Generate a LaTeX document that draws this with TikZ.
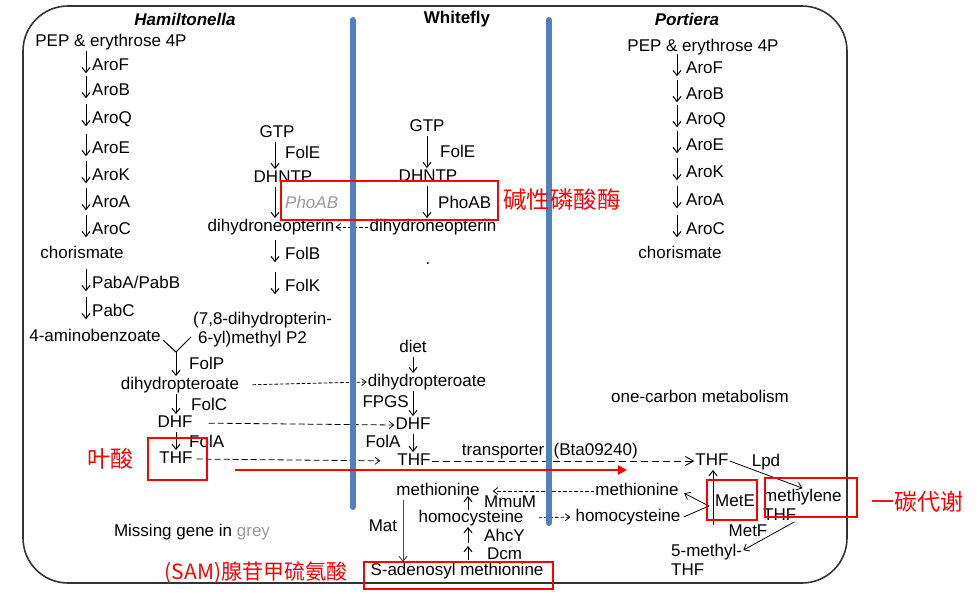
\documentclass[tikz,border=0pt]{standalone}
\usepackage{fontspec}
\setmainfont{Liberation Sans}
\newfontfamily\cjkfont{Noto Sans CJK SC}
\usetikzlibrary{arrows.meta}
\definecolor{barblue}{HTML}{4F81BD}
\definecolor{missgray}{HTML}{999999}

\tikzset{
  txt/.style={font=\fontsize{17}{19}\selectfont, inner sep=1pt},
  met/.style={txt, text height=12pt, text depth=3.5pt},
  enz/.style={met, anchor=west, inner ysep=5pt, text depth=0pt},
  head/.style={font=\fontsize{17}{19}\selectfont\bfseries, inner sep=1pt},
  conv/.style={line width=1pt, -{Straight Barb[length=5pt,width=8pt]}},
  flux/.style={line width=0.8pt, dash pattern=on 3.5pt off 2pt, -{Straight Barb[length=4.5pt,width=7pt]}},
  uptake/.style={line width=0.9pt, dash pattern=on 7pt off 4pt, -{Straight Barb[length=8pt,width=9pt]}},
  membrane/.style={line width=6pt, draw=barblue, line cap=round},
  redbox/.style={draw=red, line width=2.5pt},
  note/.style={text=red, font=\cjkfont\fontsize{23}{25}\selectfont, inner sep=0pt}
}

\begin{document}
\begin{tikzpicture}[x=1pt, y=-1pt]
\useasboundingbox (0,0) rectangle (980,603);

% outer frame
\draw[black!80, line width=1.6pt, rounded corners=45pt] (23,6) rectangle (847,583);

% column headings
\node[head] (hHead) at (185,19) {\itshape Hamiltonella};
\node[head] (wHead) at (457,19) {Whitefly};
\node[head] (pHead) at (687,19) {\itshape Portiera};

% Hamiltonella: shikimate branch
\node[met] (hPEP) at (111,42) {PEP \& erythrose 4P};
\foreach \enzname/\y in {AroF/64, AroB/89, AroQ/117, AroE/147, AroK/174, AroA/201, AroC/228} {
  \node[enz] (h\enzname) at (91,\y) {\enzname};
  \draw[conv] ([xshift=-5pt,yshift=2pt]h\enzname.north west) -- ([xshift=-5pt,yshift=2pt]h\enzname.south west);
}
\node[met] (hCho) at (82,254) {chorismate};
\node[enz] (hPabAB) at (91,282) {PabA/PabB};
\draw[conv] ([xshift=-5pt,yshift=2pt]hPabAB.north west) -- ([xshift=-5pt,yshift=2pt]hPabAB.south west);
\node[enz] (hPabC) at (91,310) {PabC};
\draw[conv] ([xshift=-5pt,yshift=2pt]hPabC.north west) -- ([xshift=-5pt,yshift=2pt]hPabC.south west);
\node[met] (hAbz) at (95,337) {4-aminobenzoate};

% Hamiltonella: pterin branch
\node[met] (hGTP) at (277,133) {GTP};
\node[met] (hDHNTP) at (283,178) {DHNTP};
\node[met] (hDHN) at (271,227) {dihydroneopterin};
\draw[conv] ([xshift=-2pt]hGTP.south) -- ([xshift=-2pt]hGTP.south |- hDHNTP.north);
\node[enz] (hFolE) at (284,152) {FolE};
\draw[conv] ([xshift=-2pt]hGTP.south |- hDHNTP.south) -- ([xshift=-2pt]hGTP.south |- hDHN.north);
\node[enz, text=missgray] (hPhoAB) at (284,202) {\itshape PhoAB};
\node[enz] (hFolB) at (284,253) {FolB};
\draw[conv] ([xshift=-9pt,yshift=2pt]hFolB.north west) -- ([xshift=-9pt,yshift=2pt]hFolB.south west);
\node[enz] (hFolK) at (284,285) {FolK};
\draw[conv] ([xshift=-9pt,yshift=2pt]hFolK.north west) -- ([xshift=-9pt,yshift=2pt]hFolK.south west);
\node[txt, align=left, anchor=west] (hDHPP) at (192,330) {(7,8-dihydropterin-\\\hspace{5pt}6-yl)methyl P2};

% Hamiltonella: folate core
\coordinate (hMerge) at (176,352);
\coordinate (hArmL) at (163,340);
\coordinate (hArmR) at (191,337);
\draw[line width=1pt] (hArmL) -- (hMerge) -- (hArmR);
\node[met] (hDHP) at (180,385) {dihydropteroate};
\draw[conv] (hMerge) -- (hMerge |- hDHP.north);
\node[enz] (hFolP) at (188,363) {FolP};
\node[met] (hDHF) at (175,423) {DHF};
\draw[conv] (hMerge |- hDHP.south) -- (hMerge |- hDHF.north);
\node[enz] (hFolC) at (190,404) {FolC};
\node[met] (hTHF) at (176,459) {THF};
\draw[conv] (hMerge |- hDHF.south) -- (hMerge |- hTHF.north);
\node[enz] (hFolA) at (188,441) {FolA};
\node[txt] (hMiss) at (192,532) {Missing gene in \textcolor{missgray}{grey}};

% Whitefly
\node[met] (wGTP) at (427,127) {GTP};
\node[met] (wDHNTP) at (428,177) {DHNTP};
\node[met] (wDHN) at (433,227) {dihydroneopterin};
\draw[conv] (wGTP.south) -- (wGTP.south |- wDHNTP.north);
\node[enz] (wFolE) at (439,151) {FolE};
\draw[conv] (wGTP.south |- wDHNTP.south) -- (wGTP.south |- wDHN.north);
\node[enz] (wPhoAB) at (437,202) {PhoAB};
\draw[flux] (wDHN.west) -- (hDHN.east);
\node[txt] (wDot) at (428,264) {.};

\node[met] (wDiet) at (413,348) {diet};
\node[met] (wDHP) at (427,382) {dihydropteroate};
\draw[conv] (wDiet.south) -- (wDiet.south |- wDHP.north);
\draw[flux, shorten <=12pt] (hDHP.east) -- (wDHP.west);
\node[met] (wDHF) at (413,425) {DHF};
\draw[conv] (wDiet.south |- wDHP.south) -- (wDiet.south |- wDHF.north);
\node[met, anchor=east] (wFPGS) at (410,403) {FPGS};
\draw[flux, dash pattern=on 6pt off 3pt, shorten <=15pt] (hDHF.east) -- (wDHF.west);
\node[met] (wTHF) at (414,461) {THF};
\draw[conv] (wDiet.south |- wDHF.south) -- (wDiet.south |- wTHF.north);
\node[met] (wFolA) at (383,443) {FolA};
\draw[flux, dash pattern=on 6pt off 3pt, shorten <=3pt, shorten >=16pt] (hTHF.east) -- (wTHF.west);

\node[met] (wMet) at (438,491) {methionine};
\node[met] (wHcy) at (471,518) {homocysteine};
\node[met] (wSAM) at (457,571) {S-adenosyl methionine};
\node[enz] (wMmuM) at (483,501) {MmuM};
\draw[conv] ([xshift=-15pt,yshift=-9pt]wMmuM.west) -- ([xshift=-15pt,yshift=5pt]wMmuM.west);
\node[enz] (wAhcY) at (483,535) {AhcY};
\draw[conv] ([xshift=-15pt,yshift=-8pt]wAhcY.west) -- ([xshift=-15pt,yshift=8pt]wAhcY.west);
\node[enz] (wDcm) at (486,553) {Dcm};
\draw[conv] ([xshift=-18pt,yshift=-7pt]wDcm.west) -- ([xshift=-18pt,yshift=7pt]wDcm.west);
\draw[conv, black!70] ([xshift=-35pt]wMet.south) -- ([xshift=-35pt]wMet.south |- wSAM.north);
\node[met] (wMat) at (383,527) {Mat};

% Portiera
\node[met] (pPEP) at (703,47) {PEP \& erythrose 4P};
\foreach \enzname/\y in {AroF/67, AroB/93, AroQ/118, AroE/144, AroK/171, AroA/199, AroC/228} {
  \node[enz] (p\enzname) at (685,\y) {\enzname};
  \draw[conv] ([xshift=-8pt,yshift=2pt]p\enzname.north west) -- ([xshift=-8pt,yshift=2pt]p\enzname.south west);
}
\node[met] (pCho) at (680,254) {chorismate};
\node[txt] (pOneC) at (700,396) {one-carbon metabolism};

\node[met] (pTHF) at (712,461) {THF};
\draw[uptake] (wTHF.east) -- (pTHF.west)
  node[txt, pos=0.45, above, yshift=1pt] (wTrans) {transporter\ \ (Bta09240)};

\node[met] (pMet) at (637,491) {methionine};
\node[met] (pHcy) at (628,517) {homocysteine};
\draw[flux, shorten >=12pt] (pMet.west) -- (wMet.east);
\draw[flux, shorten <=14pt, shorten >=4pt] (wHcy.east) -- (pHcy.west);

\coordinate (pMetEbot) at (713,525);
\draw[conv] (pMetEbot) -- (pMetEbot |- pTHF.south);
\coordinate (pJoin) at (709,506);
\draw[line width=0.8pt] ([xshift=2pt]pHcy.east) -- (pJoin);
\draw[conv, line width=0.8pt, shorten >=5pt] (pJoin) -- (pMet.east);
\node[met] (pMetE) at (735,502) {MetE};

\node[txt, align=left, anchor=west] (pMTHF) at (762,505) {methylene\\THF};
\draw[conv, line width=0.8pt] (pTHF.east) -- (pMTHF.north);
\node[met] (pLpd) at (766,462) {Lpd};
\node[txt, align=left, anchor=west] (p5M) at (670,560) {5-methyl-\\THF};
\draw[conv, line width=0.8pt] ([xshift=-8pt]pMTHF.south) -- (p5M.15);
\node[met] (pMetF) at (748,532) {MetF};

% membranes
\draw[membrane] (352.5,20) -- (352.5,507);
\draw[membrane] (549,20) -- (549,523);

% red annotations
\draw[redbox] (281,181) rectangle (498,220);
\node[note, font=\cjkfont\fontsize{23.5}{25}\selectfont] (nPho) at (562,200) {碱性磷酸酶};
\draw[redbox] (148,438) rectangle (207,480);
\node[note] (nFol) at (110,459) {叶酸};
\coordinate (redS) at (235,470);
\coordinate (redE) at (627,470);
\draw[red, line width=2pt, -{Triangle[length=9pt,width=9pt]}] (redS) -- (redE);
\draw[redbox] (364,562) rectangle (553,589);
\node[note, font=\cjkfont\fontsize{21}{23}\selectfont] (nSAM) at (256,573) {(SAM)腺苷甲硫氨酸};
\draw[redbox] (707,480) rectangle (757,520);
\draw[redbox] (765,478) rectangle (857,517);
\node[note] (nOneC) at (917,502) {一碳代谢};
\end{tikzpicture}
\end{document}
